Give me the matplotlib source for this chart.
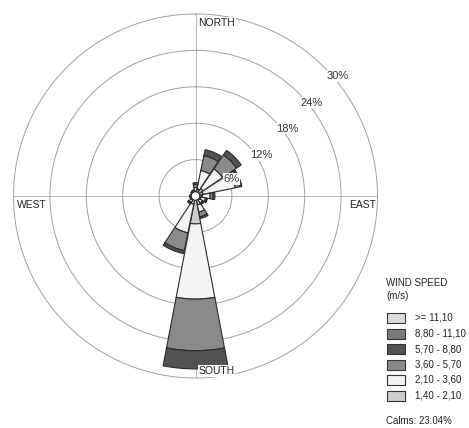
import numpy as np
import matplotlib
matplotlib.use("Agg")
import matplotlib.pyplot as plt
from matplotlib.patches import Rectangle

plt.rcParams['font.family'] = ['Liberation Sans', 'DejaVu Sans']

# 16 compass directions, clockwise from north
directions = ["N", "NNE", "NE", "ENE", "E", "ESE", "SE", "SSE",
              "S", "SSW", "SW", "WSW", "W", "WNW", "NW", "NNW"]

# frequency (%) per speed class and direction
speed_140_210 = [0.8, 1.2, 1.5, 1.3, 1.1, 0.9, 0.8, 1.5, 4.6, 1.4, 0.8, 0.5, 0.5, 0.4, 0.5, 0.6]
speed_210_360 = [0.6, 3.1, 3.9, 5.4, 1.3, 0.8, 0.6, 1.2, 12.4, 4.8, 0.5, 0.3, 0.3, 0.2, 0.3, 0.3]
speed_360_570 = [0.5, 2.5, 2.8, 0.8, 0.5, 0.2, 0.2, 0.8, 8.5, 3.0, 0.2, 0.1, 0.1, 0.1, 0.1, 0.1]
speed_570_880 = [0.3, 1.0, 0.9, 0.3, 0.3, 0.1, 0.1, 0.3, 3.0, 0.5, 0.05, 0.05, 0.05, 0.05, 0.05, 0.05]
speed_880_1110 = [0.0] * 16
speed_ge_1110 = [0.0] * 16

speed_bins = [speed_140_210, speed_210_360, speed_360_570,
              speed_570_880, speed_880_1110, speed_ge_1110]
bin_labels = ["1,40 - 2,10", "2,10 - 3,60", "3,60 - 5,70",
              "5,70 - 8,80", "8,80 - 11,10", ">= 11,10"]
bin_colors = ["#cdcdcd", "#f4f4f4", "#8a8a8a", "#525252", "#7a7a7a", "#dadada"]

ring_values = [6, 12, 18, 24, 30]
ring_labels = ["6%", "12%", "18%", "24%", "30%"]
calms_label = "Calms: 23.04%"
calm_radius = 0.7

W, H = 469, 428
fig = plt.figure(figsize=(W / 100, H / 100), dpi=100)
fig.patch.set_facecolor("white")

cx, cy, R = 195.5, 196.0, 182.0
ax = fig.add_axes([(cx - R) / W, 1 - (cy + R) / H, 2 * R / W, 2 * R / H],
                  projection="polar")
ax.set_theta_zero_location("N")
ax.set_theta_direction(-1)
ax.set_ylim(0, 30)
ax.set_axisbelow(True)

grid_color = "#a0a0a0"
ax.set_rgrids(ring_values[:-1], labels=[""] * 4)
ax.set_thetagrids([0, 90, 180, 270], labels=[""] * 4)
ax.grid(True, color=grid_color, linewidth=0.7)
ax.xaxis.grid(True, color="#b4b4b4", linewidth=0.7)
ax.spines["polar"].set_color(grid_color)
ax.spines["polar"].set_linewidth(0.7)
ax.tick_params(length=0)

theta = np.deg2rad(np.arange(16) * 22.5)
width = np.deg2rad(22.5) * 0.96
bottom = np.zeros(16)
for vals, col in zip(speed_bins, bin_colors):
    vals = np.asarray(vals)
    mask = vals > 0
    ax.bar(theta[mask], vals[mask], width=width, bottom=bottom[mask],
           color=col, edgecolor="#2a2a2a", linewidth=0.8, zorder=3)
    bottom = bottom + vals

# calm circle in the centre
calm_t = np.linspace(0, 2 * np.pi, 100)
ax.fill(calm_t, np.full_like(calm_t, calm_radius), color="white",
        edgecolor="#2a2a2a", linewidth=0.8, zorder=4)

# ring percentage labels
ring_pos = [(64.7, 6.56), (58.0, 12.74), (53.6, 18.74), (51.3, 24.6), (49.9, 30.7)]
for lab, (ang, rr) in zip(ring_labels, ring_pos):
    ax.text(np.deg2rad(ang), rr, lab, ha="center", va="center", fontsize=8,
            color="#333333", zorder=6,
            bbox=dict(facecolor="white", edgecolor="none", pad=0.5))

# compass labels
box = dict(facecolor="white", edgecolor="none", pad=0.5)
compass = [("NORTH", 0, (3, -4), "left", "top"),
           ("EAST", 90, (-2, -4), "right", "top"),
           ("SOUTH", 180, (3, 4), "left", "baseline"),
           ("WEST", 270, (3, -4), "left", "top")]
for lab, ang, off, ha, va in compass:
    ax.annotate(lab, xy=(np.deg2rad(ang), 30), xytext=off,
                textcoords="offset pixels", ha=ha, va=va, fontsize=7.5,
                color="#222222", bbox=box, zorder=7, annotation_clip=False)


def fx(x):
    return x / W


def fy(y):
    return 1 - y / H


# legend
fig.text(fx(386), fy(283), "WIND SPEED", fontsize=7, color="#222222",
         ha="left", va="center")
fig.text(fx(386), fy(296), "(m/s)", fontsize=7, color="#222222",
         ha="left", va="center")
row_y = [318, 333.5, 349, 364.5, 380, 395.5]
for yy, lab, col in zip(row_y, bin_labels[::-1], bin_colors[::-1]):
    fig.add_artist(Rectangle((fx(387), fy(yy + 5)), 18 / W, 10 / H,
                             transform=fig.transFigure, facecolor=col,
                             edgecolor="#333333", linewidth=0.8))
    fig.text(fx(415), fy(yy), lab, fontsize=7, color="#222222",
             ha="left", va="center")
fig.text(fx(386), fy(421), calms_label, fontsize=7, color="#222222",
         ha="left", va="center")

fig.savefig("out.png", dpi=100, facecolor="white")
